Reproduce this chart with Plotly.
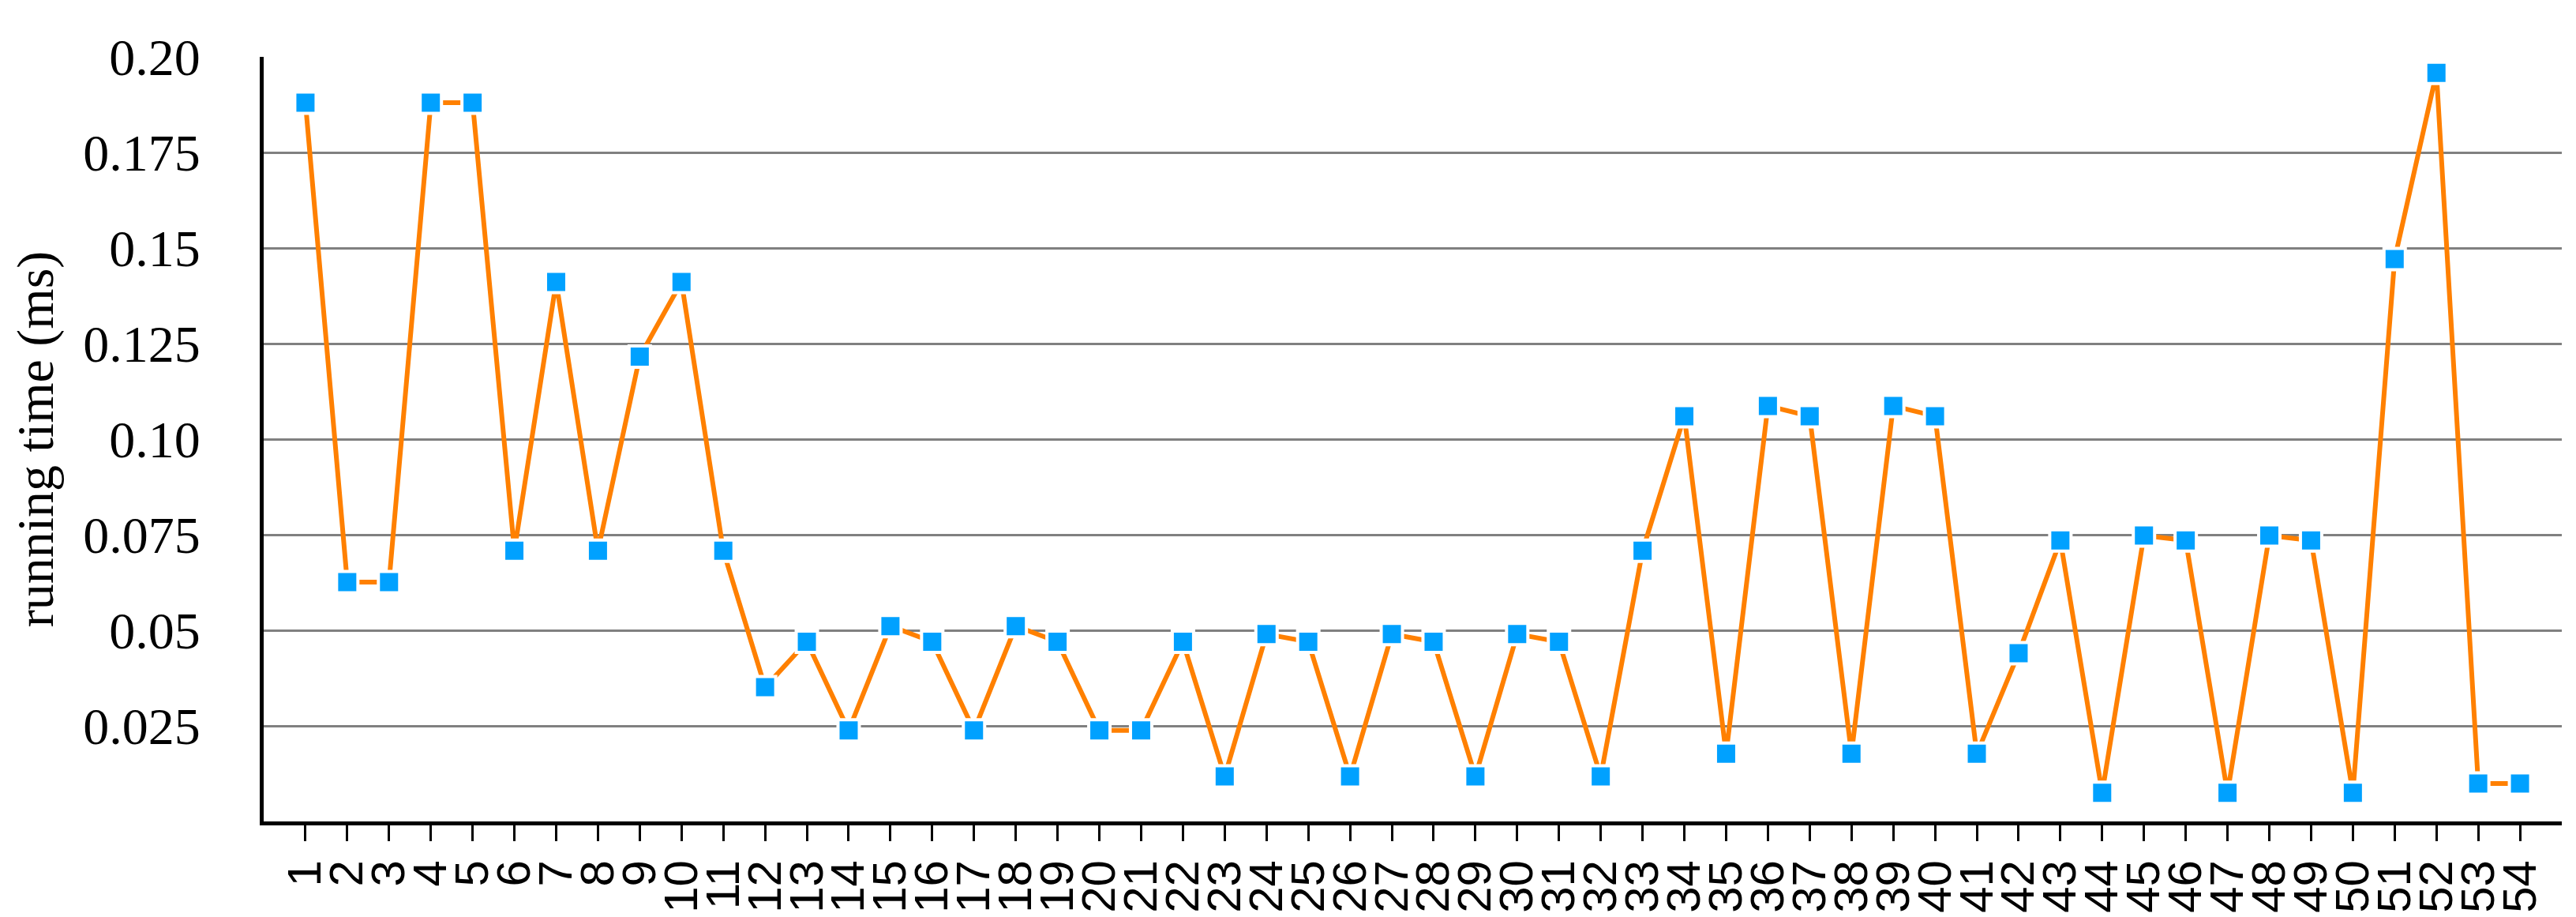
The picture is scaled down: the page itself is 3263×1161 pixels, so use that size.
import plotly.graph_objects as go

# run index 1..54 and measured running time (ms)
runs = list(range(1, 55))
running_time = [
    0.188, 0.0626, 0.0626, 0.188, 0.188, 0.0708, 0.1411, 0.0708, 0.1216, 0.1411,
    0.0708, 0.0351, 0.047, 0.0238, 0.0511, 0.047, 0.0238, 0.0511, 0.047, 0.0238,
    0.0238, 0.047, 0.0118, 0.049, 0.047, 0.0118, 0.049, 0.047, 0.0118, 0.049,
    0.047, 0.0118, 0.0708, 0.106, 0.0177, 0.1087, 0.106, 0.0177, 0.1087, 0.106,
    0.0177, 0.044, 0.0735, 0.0075, 0.0748, 0.0735, 0.0075, 0.0748, 0.0735, 0.0075,
    0.1471, 0.1958, 0.0099, 0.0099,
]
y_ticks = [0.025, 0.05, 0.075, 0.10, 0.125, 0.15, 0.175, 0.20]
y_labels = ["0.025", "0.05", "0.075", "0.10", "0.125", "0.15", "0.175", "0.20"]

SERIF = "Liberation Serif, Times New Roman, serif"
SANS = "Liberation Sans, Arial, sans-serif"

fig = go.Figure()

fig.add_trace(go.Scatter(
    x=runs,
    y=running_time,
    mode="lines+markers",
    line=dict(color="#FF8000", width=6),
    marker=dict(symbol="square", size=27, color="#00A1FF",
                line=dict(color="white", width=4)),
    showlegend=False,
))

fig.update_layout(
    width=3263,
    height=1161,
    margin=dict(l=326, r=26, t=64, b=129),
    paper_bgcolor="white",
    plot_bgcolor="white",
    xaxis=dict(
        range=[0, 55],
        tickvals=runs,
        ticktext=[str(r) for r in runs],
        tickangle=-90,
        ticks="outside",
        ticklen=20,
        tickwidth=3,
        tickcolor="black",
        showline=True,
        linecolor="black",
        linewidth=5,
        showgrid=False,
        zeroline=False,
        tickfont=dict(family=SANS, size=60, color="black"),
    ),
    yaxis=dict(
        range=[0, 0.2],
        tickvals=y_ticks,
        ticktext=y_labels,
        ticks="",
        ticklabelstandoff=62,
        showline=True,
        linecolor="black",
        linewidth=5,
        showgrid=True,
        gridcolor="#808080",
        gridwidth=3,
        zeroline=False,
        tickfont=dict(family=SERIF, size=66, color="black"),
        title=dict(text="running time (ms)", standoff=28,
                   font=dict(family=SERIF, size=66, color="black")),
    ),
)

fig.write_html("out.html")
